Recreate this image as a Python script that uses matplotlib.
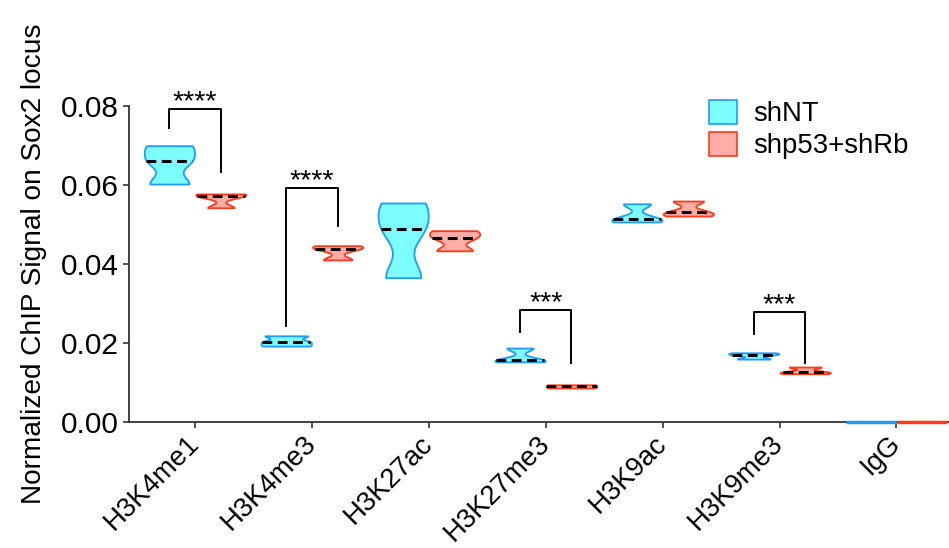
import matplotlib.pyplot as plt
import numpy as np

plt.rcParams['font.family'] = ['Liberation Sans', 'DejaVu Sans']

# three replicates per mark and condition
marks = ['H3K4me1', 'H3K4me3', 'H3K27ac', 'H3K27me3', 'H3K9ac', 'H3K9me3', 'IgG']
shNT = [
    [0.0602, 0.0661, 0.0699],
    [0.0192, 0.0203, 0.0218],
    [0.0365, 0.0489, 0.0554],
    [0.0152, 0.0157, 0.0187],
    [0.0506, 0.0514, 0.0552],
    [0.0159, 0.0170, 0.0175],
    [0.0, 0.0, 0.0],
]
shp53_shRb = [
    [0.0542, 0.0572, 0.0577],
    [0.0410, 0.0438, 0.0446],
    [0.0433, 0.0466, 0.0484],
    [0.0086, 0.0090, 0.0094],
    [0.0521, 0.0531, 0.0559],
    [0.0122, 0.0127, 0.0139],
    [0.0, 0.0, 0.0],
]
group_labels = ['shNT', 'shp53+shRb']

# significance brackets: mark index, stars, left foot, right foot, top
sig_marks = [0, 1, 3, 5]
sig_stars = ['****', '****', '***', '***']
sig_left = [0.0744, 0.0243, 0.0228, 0.0223]
sig_right = [0.0633, 0.0496, 0.0149, 0.0149]
sig_top = [0.0792, 0.0592, 0.0284, 0.0278]

cyan_face, cyan_edge = '#7DFDFF', '#1E9BFF'
red_face, red_edge = '#FFADA6', '#FF3A1C'

fig = plt.figure(figsize=(9.49, 5.48), dpi=100)
ax = fig.add_axes([0.136, 0.23, 0.864, 0.577])

x = np.arange(len(marks))
off = 0.22
w = 0.43


def draw_violins(data, pos, face, edge):
    for d, p in zip(data, pos):
        d = np.asarray(d)
        if np.ptp(d) == 0:
            # flat group, just a line on the axis
            ax.plot([p - w / 2, p + w / 2], [d[0], d[0]], color=edge, lw=2.5,
                    solid_capstyle='butt', zorder=4, clip_on=False)
            continue
        parts = ax.violinplot([d], positions=[p], widths=w, bw_method=0.42,
                              showextrema=False, points=200)
        body = parts['bodies'][0]
        body.set_facecolor(face)
        body.set_edgecolor(edge)
        body.set_linewidth(1.3)
        body.set_alpha(1)
        body.set_zorder(3)
        # dashed median across the body
        verts = body.get_paths()[0].vertices
        right = verts[verts[:, 0] >= p]
        order = np.argsort(right[:, 1])
        med = np.median(d)
        half = np.interp(med, right[order, 1], right[order, 0] - p)
        ax.plot([p - half, p + half], [med, med], color='black', lw=2.2,
                ls=(0, (3.2, 1.8)), zorder=5)


draw_violins(shNT, x - off, cyan_face, cyan_edge)
draw_violins(shp53_shRb, x + off, red_face, red_edge)

for m, s, yl, yr, yt in zip(sig_marks, sig_stars, sig_left, sig_right, sig_top):
    xl, xr = m - off, m + off
    ax.plot([xl, xl, xr, xr], [yl, yt, yt, yr], color='black', lw=1.4, zorder=2)
    ax.text(m, yt, s, ha='center', va='baseline', fontsize=20.5)

ax.set_xlim(-0.565, 6.45)
ax.set_ylim(0, 0.08)
ax.set_yticks([0, 0.02, 0.04, 0.06, 0.08])
ax.set_yticklabels(['0.00', '0.02', '0.04', '0.06', '0.08'])
ax.set_xticks(x)
ax.set_xticklabels(marks, rotation=45, ha='right', va='center', rotation_mode='anchor')
ax.tick_params(axis='y', labelsize=21.5, width=1.2, length=4, color='#333333')
ax.tick_params(axis='x', labelsize=19.8, width=1.2, length=4, color='#333333', pad=9)
ax.set_ylabel('Normalized ChIP Signal on Sox2 locus', fontsize=20.2, labelpad=10)

for side in ['top', 'right']:
    ax.spines[side].set_visible(False)
for side in ['left', 'bottom']:
    ax.spines[side].set_linewidth(1.3)
    ax.spines[side].set_color('#333333')

handles = [plt.Rectangle((0, 0), 1, 1, facecolor=cyan_face, edgecolor=cyan_edge, lw=1.2),
           plt.Rectangle((0, 0), 1, 1, facecolor=red_face, edgecolor=red_edge, lw=1.2)]
ax.legend(handles, group_labels, loc='upper left', bbox_to_anchor=(0.694, 1.054),
          frameon=False, fontsize=19.8, handlelength=1.0, handleheight=1.0,
          handletextpad=0.6, labelspacing=0.15, borderaxespad=0)

fig.savefig('out.png', dpi=100)
